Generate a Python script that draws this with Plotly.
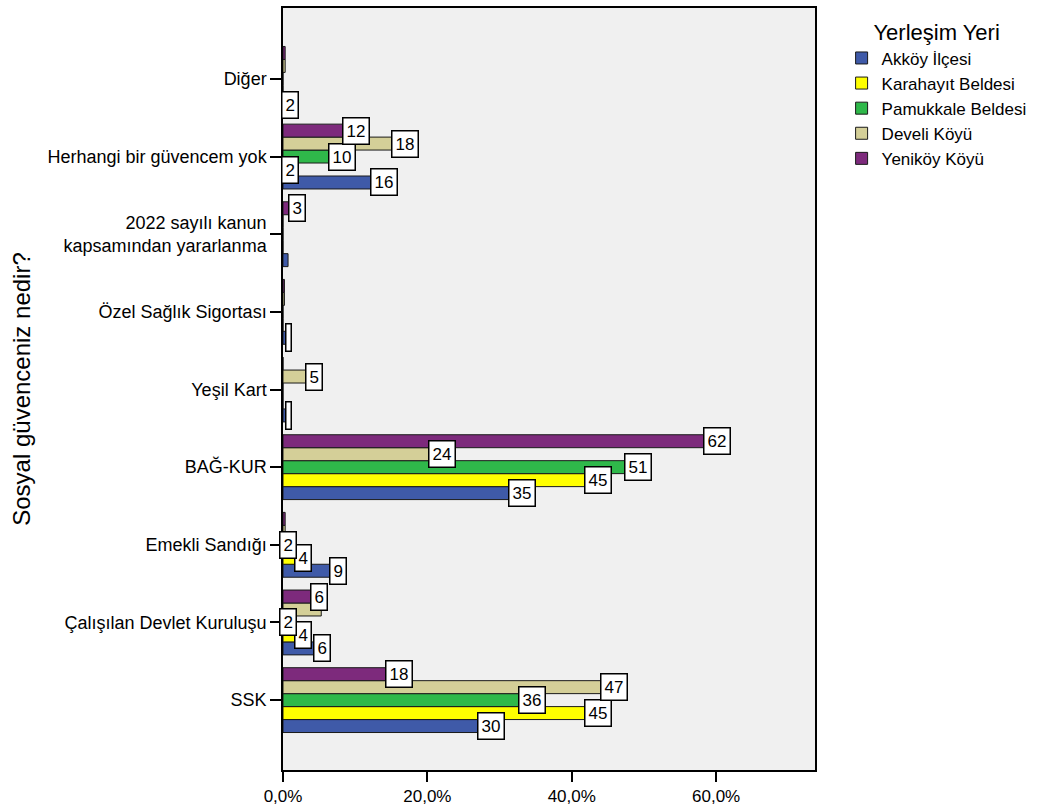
import plotly.graph_objects as go

# Categories (bottom -> top)
categories = ["SSK", "Çalışılan Devlet Kuruluşu", "Emekli Sandığı", "BAĞ-KUR",
              "Yeşil Kart", "Özel Sağlık Sigortası",
              "2022 sayılı kanun<br>kapsamından yararlanma",
              "Herhangi bir güvencem yok", "Diğer"]

series_names = ["Akköy İlçesi", "Karahayıt Beldesi", "Pamukkale Beldesi", "Develi Köyü", "Yeniköy Köyü"]

# Percent values (label boxes sit inside the bar ends)
akkoy = [30.5, 6.4, 8.6, 34.8, 0.9, 0.9, 0.7, 15.7, 2.0]
karahayit = [45.3, 3.8, 3.8, 45.3, 0.0, 0.0, 0.0, 1.9, 0.0]
pamukkale = [36.1, 1.6, 1.6, 50.9, 0.0, 0.0, 0.0, 9.9, 0.0]
develi = [47.5, 5.3, 0.3, 23.7, 5.3, 0.2, 0.0, 18.5, 0.3]
yenikoy = [17.7, 5.9, 0.3, 61.8, 0.0, 0.2, 2.9, 11.8, 0.3]

# Count labels shown in boxes (None = no label, "" = clipped empty box)
akkoy_lbl = ["30", "6", "9", "35", "", "", None, "16", "2"]
karahayit_lbl = ["45", "4", "4", "45", None, None, None, "2", None]
pamukkale_lbl = ["36", "2", "2", "51", None, None, None, "10", None]
develi_lbl = ["47", None, None, "24", "5", None, None, "18", None]
yenikoy_lbl = ["18", "6", None, "62", None, None, "3", "12", None]

colors = ["#3F5AA8", "#FFFF00", "#2FB84A", "#D4CF98", "#7D2A7C"]

values = [akkoy, karahayit, pamukkale, develi, yenikoy]
labels = [akkoy_lbl, karahayit_lbl, pamukkale_lbl, develi_lbl, yenikoy_lbl]

x_ticks = [0, 20, 40, 60]
x_ticktext = ["0,0%", "20,0%", "40,0%", "60,0%"]

bw = 0.167
FONT = "Arial, Liberation Sans, sans-serif"

fig = go.Figure()
annotations = []
idx = list(range(len(categories)))
for k, (name, vals, lbls, col) in enumerate(zip(series_names, values, labels, colors)):
    ys = [i + (k - 2) * bw for i in idx]
    fig.add_trace(go.Bar(
        x=vals, y=ys, orientation="h", name=name, width=bw,
        marker=dict(color=col, line=dict(color="#1a1a1a", width=1)),
        hoverinfo="x+name",
    ))
    for v, y, t in zip(vals, ys, lbls):
        if t is None:
            continue
        a = dict(x=v, y=y, xref="x", yref="y", text=t if t else " ",
                 showarrow=False, xanchor="right", yanchor="middle", xshift=2,
                 font=dict(family=FONT, size=17, color="black"),
                 bgcolor="white", bordercolor="black", borderwidth=1.5, borderpad=3)
        if t == "":
            a["width"] = 2
            a["borderpad"] = 1
            a["height"] = 24
        annotations.append(a)

fig.update_layout(
    width=1040, height=805,
    barmode="overlay",
    paper_bgcolor="white",
    plot_bgcolor="#F0F0F0",
    margin=dict(l=282.5, r=225, t=8, b=35, autoexpand=False),
    font=dict(family=FONT, size=16, color="black"),
    annotations=annotations,
    showlegend=True,
    legend=dict(
        title=dict(text="Yerleşim Yeri", font=dict(size=22, family=FONT, color="black"), side="top center"),
        x=1.05, y=0.995, xanchor="left", yanchor="top",
        font=dict(size=17, family=FONT, color="black"),
        traceorder="normal", tracegroupgap=0, itemwidth=30,
        bgcolor="rgba(0,0,0,0)",
    ),
)
fig.update_xaxes(
    range=[0, 73.7], tickvals=x_ticks, ticktext=x_ticktext,
    showgrid=False, zeroline=False,
    showline=True, mirror=True, linecolor="black", linewidth=1.5,
    ticks="outside", ticklen=10, tickwidth=1.5, tickcolor="black",
    tickfont=dict(size=17, family=FONT, color="black"), automargin=False,
)
fig.update_yaxes(
    range=[-0.9, 8.913], tickvals=idx, ticktext=categories,
    showgrid=False, zeroline=False,
    showline=True, mirror=True, linecolor="black", linewidth=1.5,
    ticks="outside", ticklen=11, tickwidth=1.5, tickcolor="black",
    tickfont=dict(size=18, family=FONT, color="black"), automargin=False,
    title=dict(text="Sosyal güvenceniz nedir?", font=dict(size=24, family=FONT, color="black"), standoff=10),
)

fig.write_html("out.html", config={"displayModeBar": False},
               post_script="document.body.style.margin='0';document.body.style.overflow='hidden';")
